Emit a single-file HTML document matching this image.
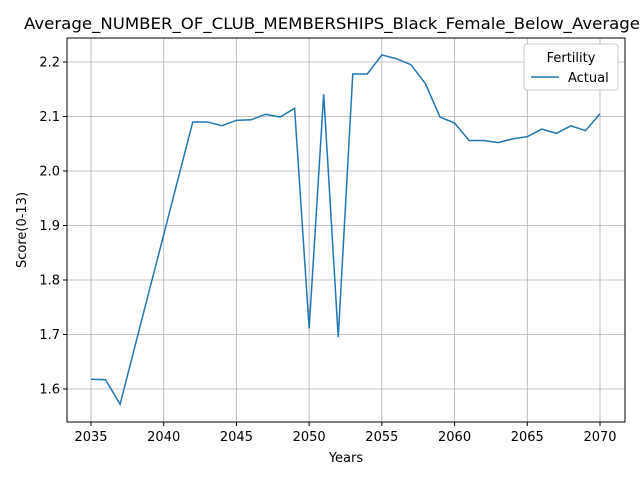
<!DOCTYPE html>
<html><head><meta charset="utf-8"><style>
html,body{margin:0;padding:0;background:#fff;overflow:hidden}
svg{display:block;font-family:"DejaVu Sans","Liberation Sans",sans-serif}
</style></head><body>
<svg id="chart" width="640" height="480" viewBox="0 0 640 480">
<rect width="640" height="480" fill="#fff"/>
<text x="24" y="29" font-size="16" textLength="616" lengthAdjust="spacingAndGlyphs" fill="#000">Average_NUMBER_OF_CLUB_MEMBERSHIPS_Black_Female_Below_Average</text>
<g id="grid"></g>
<g id="axes"></g>
<path id="series" fill="none" stroke="#1f77b4" stroke-width="1.5"/>
<rect x="67" y="38" width="558" height="384" fill="none" stroke="#000" stroke-width="1"/>
<text x="346" y="462" font-size="13" text-anchor="middle">Years</text>
<text transform="translate(26,230) rotate(-90)" font-size="13" text-anchor="middle">Score(0-13)</text>
<g>
<rect x="524" y="44" width="94" height="46" rx="3" fill="#fff" stroke="#ccc"/>
<text x="571" y="62" font-size="13" text-anchor="middle">Fertility</text>
<line x1="531" y1="77" x2="559" y2="77" stroke="#1f77b4" stroke-width="1.5"/>
<text x="568" y="82" font-size="13">Actual</text>
</g>
</svg>
<script>
const years=[2035,2036,2037,2038,2039,2040,2041,2042,2043,2044,2045,2046,2047,2048,2049,2050,2051,2052,2053,2054,2055,2056,2057,2058,2059,2060,2061,2062,2063,2064,2065,2066,2067,2068,2069,2070];
const actual=[1.618,1.617,1.572,1.676,1.780,1.883,1.987,2.090,2.090,2.083,2.093,2.094,2.104,2.099,2.115,1.711,2.141,1.695,2.178,2.178,2.213,2.206,2.195,2.160,2.099,2.088,2.056,2.056,2.052,2.059,2.063,2.077,2.069,2.083,2.074,2.105];
const xTicks=[2035,2040,2045,2050,2055,2060,2065,2070];
const yTicks=[1.6,1.7,1.8,1.9,2.0,2.1,2.2];
const xs=v=>91+(v-2035)*(509/35);
const ys=v=>389-(v-1.6)*545;
const NS="http://www.w3.org/2000/svg";
const grid=document.getElementById('grid'),axes=document.getElementById('axes');
function mk(tag,attrs,parent){const e=document.createElementNS(NS,tag);for(const k in attrs)e.setAttribute(k,attrs[k]);parent.appendChild(e);return e;}
xTicks.forEach(t=>{const x=xs(t);
const g=mk('line',{x1:x,x2:x,y1:38,y2:422,stroke:'#b0b0b0','stroke-width':0.8},grid);


const tk=mk('line',{x1:x,x2:x,y1:422,y2:426,stroke:'#000'},axes);


const l=mk('text',{x:x,y:441,'font-size':13,'text-anchor':'middle'},axes);l.textContent=t;

});
yTicks.forEach(t=>{const y=ys(t);
const g=mk('line',{x1:67,x2:625,y1:y,y2:y,stroke:'#b0b0b0','stroke-width':0.8},grid);


const tk=mk('line',{x1:63,x2:67,y1:y,y2:y,stroke:'#000'},axes);


const l=mk('text',{x:60,y:y+4.5,'font-size':13,'text-anchor':'end'},axes);l.textContent=t.toFixed(1);

});
document.getElementById('series').setAttribute('d',years.map((y,i)=>(i?'L':'M')+xs(y).toFixed(2)+','+ys(actual[i]).toFixed(2)).join(' '));
</script>
</body></html>
